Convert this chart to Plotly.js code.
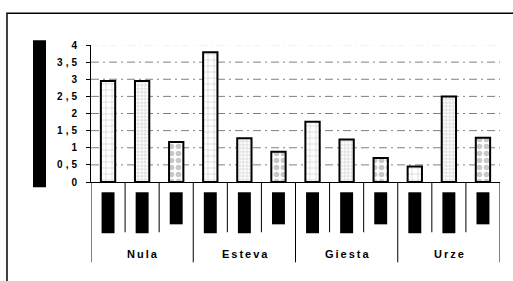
<!DOCTYPE html>
<html>
<head>
<meta charset="utf-8">
<script src="https://cdn.plot.ly/plotly-3.0.1.min.js"></script>
<style>html,body{margin:0;padding:0;background:#fff;}#chart{width:513px;height:281px;}</style>
</head>
<body>
<div id="chart"></div>
<script>
// ---- data ----
const groups = ['Nula', 'Esteva', 'Giesta', 'Urze'];
const subsPerGroup = 3;
const values = [2.95, 2.95, 1.17, 3.79, 1.28, 0.88, 1.76, 1.24, 0.70, 0.45, 2.50, 1.29];
const yTickVals = [0, 0.5, 1, 1.5, 2, 2.5, 3, 3.5, 4];
const yTickText = ['0', '0,5', '1', '1,5', '2', '2,5', '3', '3,5', '4'];
const gridVals = [0.5, 1, 1.5, 2, 2.5, 3, 3.5];

// ---- build ----
const cats = [];
groups.forEach(g => { for (let i = 0; i < subsPerGroup; i++) cats.push(g + ' ' + (i + 1)); });

const patternShape = [], patternSize = [], patternSolid = [], patternFg = [];
cats.forEach((c, i) => {
  const k = i % subsPerGroup;
  if (k === 0) { patternShape.push('+'); patternSize.push(6); patternSolid.push(0.18); patternFg.push('#c8c8c8'); }
  else if (k === 1) { patternShape.push('+'); patternSize.push(3.5); patternSolid.push(0.3); patternFg.push('#c8c8c8'); }
  else { patternShape.push('.'); patternSize.push(7); patternSolid.push(0.5); patternFg.push('#c8c8c8'); }
});

const trace = {
  type: 'bar',
  x: cats,
  y: values,
  marker: {
    color: '#ffffff',
    line: { color: '#000000', width: 2 },
    pattern: { shape: patternShape, size: patternSize, solidity: patternSolid, fgcolor: patternFg, bgcolor: '#ffffff', fillmode: 'replace' }
  },
  hoverinfo: 'none'
};

const spaced = (t, px) => '<span style="letter-spacing:' + px + 'px">' + t + '</span>';
const tickText = yTickText.map(t => t.length > 1 ? spaced(t.slice(0, -1), 3) + t.slice(-1) : t);

const shapes = [];
gridVals.forEach(v => shapes.push({ type: 'line', xref: 'paper', yref: 'y', x0: 0, x1: 1, y0: v, y1: v,
  line: { color: '#808080', width: 1, dash: '8px,4px,2px,4px' }, layer: 'below' }));
shapes.push({ type: 'line', xref: 'paper', yref: 'y', x0: 0, x1: 1, y0: 4, y1: 4,
  line: { color: '#e6e6e6', width: 1, dash: '8px,4px,2px,4px' }, layer: 'below' });
for (let i = 0; i <= cats.length; i++) {
  const isGroup = i % subsPerGroup === 0;
  shapes.push({ type: 'line', xref: 'x', yref: 'paper', x0: i - 0.5, x1: i - 0.5, y0: 0, y1: isGroup ? -0.586 : -0.367,
    line: { color: '#000000', width: 1 } });
}
cats.forEach((c, i) => {
  const k = i % subsPerGroup;
  shapes.push({ type: 'rect', xref: 'x', yref: 'paper', x0: i - 0.19, x1: i + 0.19, y0: -0.075, y1: k === 2 ? -0.309 : -0.374,
    fillcolor: '#000000', line: { width: 0 } });
});
shapes.push({ type: 'rect', xref: 'paper', yref: 'paper', x0: -0.1418, x1: -0.110, y0: -0.039, y1: 1.034,
  fillcolor: '#000000', line: { width: 0 } });
shapes.push({ type: 'rect', xref: 'paper', yref: 'paper', x0: -0.2054, x1: 1.2, y0: -0.9, y1: 1.2314,
  line: { color: '#000000', width: 1.5 }, fillcolor: 'rgba(0,0,0,0)' });

const annotations = groups.map((g, gi) => ({
  text: spaced(g, 2), xref: 'x', yref: 'paper', x: gi * subsPerGroup + (subsPerGroup - 1) / 2, y: -0.523,
  xshift: 1, showarrow: false, xanchor: 'center', yanchor: 'middle',
  font: { family: 'Liberation Sans, Arial, sans-serif', size: 11, color: '#000000', weight: 'bold' }
}));

const layout = {
  width: 513, height: 281,
  margin: { l: 91, r: 13, t: 45, b: 99, pad: 0 },
  paper_bgcolor: '#ffffff', plot_bgcolor: '#ffffff',
  font: { family: 'Liberation Sans, Arial, sans-serif', color: '#000000' },
  showlegend: false,
  bargap: 0.58,
  xaxis: { type: 'category', range: [-0.5, cats.length - 0.5], showticklabels: false, ticks: '',
    showline: true, linecolor: '#000000', linewidth: 1, showgrid: false, zeroline: false, automargin: false, fixedrange: true },
  yaxis: { range: [0, 4], tickvals: yTickVals, ticktext: tickText, ticks: 'outside', ticklen: 4, tickcolor: '#000000',
    tickfont: { size: 10, weight: 'bold', family: 'Liberation Sans, Arial, sans-serif' }, ticklabelstandoff: 7,
    showline: true, linecolor: '#000000', linewidth: 1, showgrid: false, zeroline: false, automargin: false, fixedrange: true },
  shapes: shapes,
  annotations: annotations
};

Plotly.newPlot('chart', [trace], layout, { staticPlot: true, displayModeBar: false });
</script>
</body>
</html>
